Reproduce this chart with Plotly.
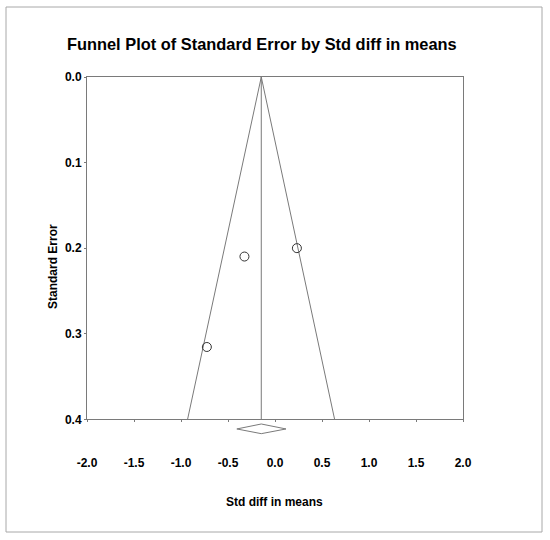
"""
Funnel plot of standard error by std diff in means.
"""
import plotly.graph_objects as go

# Studies: effect size (std diff in means) and standard error
study_effect = [-0.725, -0.325, 0.233]
study_se = [0.3155, 0.2098, 0.200]

# Funnel (pseudo 95% limits) and summary effect
funnel_x = [-0.93, -0.146, 0.634]
funnel_se = [0.4, 0.0, 0.4]
center_x = [-0.146, -0.146]
center_se = [0.0, 0.4]

# Summary diamond below the axis (x = effect, y = position on SE scale)
diamond_x = [-0.406, -0.146, 0.117, -0.146, -0.406]
diamond_y = [0.4113, 0.4055, 0.4113, 0.4168, 0.4113]

x_ticks = [-2.0, -1.5, -1.0, -0.5, 0.0, 0.5, 1.0, 1.5, 2.0]
y_ticks = [0.0, 0.1, 0.2, 0.3, 0.4]

FONT = "Arial, Liberation Sans, sans-serif"
GREY = "#7a7a7a"

fig = go.Figure()

# Funnel lines
fig.add_trace(go.Scatter(x=funnel_x, y=funnel_se, mode="lines",
                         line=dict(color=GREY, width=1), hoverinfo="skip"))
fig.add_trace(go.Scatter(x=center_x, y=center_se, mode="lines",
                         line=dict(color=GREY, width=1), hoverinfo="skip"))

# Studies
fig.add_trace(go.Scatter(x=study_effect, y=study_se, mode="markers",
                         marker=dict(symbol="circle-open", size=9, color="#333333",
                                     line=dict(width=1))))

# Diamond on a thin strip just below the plot box
fig.add_trace(go.Scatter(x=diamond_x, y=diamond_y, mode="lines", yaxis="y2",
                         line=dict(color=GREY, width=1), hoverinfo="skip"))

plot_bottom = 440
y_dom = (plot_bottom - 419.3) / (plot_bottom - 77)

fig.update_layout(
    width=550, height=540,
    margin=dict(l=87, r=87, t=77, b=540 - plot_bottom),
    paper_bgcolor="white", plot_bgcolor="white",
    showlegend=False,
    font=dict(family=FONT, color="black"),
    title=dict(text="<b>Funnel Plot of Standard Error by Std diff in means</b>",
               font=dict(family=FONT, size=16.4, color="black"),
               x=0.465, xref="paper", xanchor="center",
               y=1 - 44 / 540, yref="container", yanchor="middle"),
    xaxis=dict(range=[-2, 2], tickvals=x_ticks,
               ticktext=[f"<b>{v:.1f}</b>" for v in x_ticks],
               tickfont=dict(family=FONT, size=12, color="black"),
               showline=True, mirror=True, linecolor=GREY, linewidth=1,
               ticks="outside", ticklen=2, tickcolor=GREY,
               ticklabelstandoff=30,
               showgrid=False, zeroline=False, anchor="y"),
    yaxis=dict(range=[0.4, 0.0], domain=[y_dom, 1], tickvals=y_ticks,
               ticktext=[f"<b>{v:.1f}</b>" for v in y_ticks],
               tickfont=dict(family=FONT, size=12, color="black"),
               showline=True, mirror=True, linecolor=GREY, linewidth=1,
               ticks="outside", ticklen=2, tickcolor=GREY,
               showgrid=False, zeroline=False),
    yaxis2=dict(range=[0.4 + (plot_bottom - 419.3) / 855, 0.4], domain=[0, y_dom],
                anchor="x", visible=False, showgrid=False, zeroline=False),
)

# Axis titles
fig.add_annotation(text="<b>Standard Error</b>", textangle=-90,
                   x=(53 - 87) / 376, y=(plot_bottom - 267) / 363,
                   xref="paper", yref="paper", xanchor="center", yanchor="middle",
                   showarrow=False,
                   font=dict(family=FONT, size=12, color="black"))
fig.add_annotation(text="<b>Std diff in means</b>",
                   x=(274 - 87) / 376, y=-(501.7 - plot_bottom) / 363,
                   xref="paper", yref="paper", xanchor="center", yanchor="middle",
                   showarrow=False,
                   font=dict(family=FONT, size=12, color="black"))

# Outer frame of the image
fig.add_shape(type="rect", xref="paper", yref="paper",
              x0=(6 - 87) / 376, x1=(542 - 87) / 376,
              y0=-(532 - plot_bottom) / 363, y1=1 + (77 - 7) / 363,
              line=dict(color="#a8a8a8", width=1))

# drop the default page margin so the figure sits at the window's corner
fig.write_html("out.html", config={"displayModeBar": False},
               post_script="document.body.style.margin='0px';")
